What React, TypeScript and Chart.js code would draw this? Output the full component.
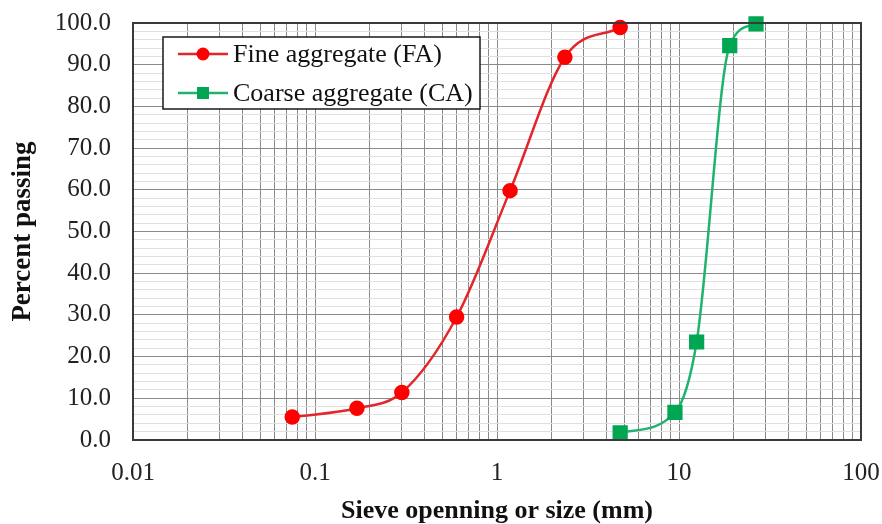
import React, { useEffect, useRef } from "react";
import { Chart, registerables } from "chart.js";

Chart.register(...registerables);

const FA_SIZE = [0.075, 0.17, 0.3, 0.6, 1.18, 2.36, 4.75];
const FA_PASS = [5.5, 7.6, 11.4, 29.5, 59.8, 91.8, 98.9];
const CA_SIZE = [4.75, 9.5, 12.5, 19, 26.5];
const CA_PASS = [1.7, 6.6, 23.5, 94.6, 99.8];
const X_LABELS = [0.01, 0.1, 1, 10, 100];
const SERIES_NAMES = ["Fine aggregate (FA)", "Coarse aggregate (CA)"];
const X_TITLE = "Sieve openning or size (mm)";
const Y_TITLE = "Percent passing";

const SERIF = '"Liberation Serif", "Times New Roman", serif';

const frameAndLegend = {
  id: "frameAndLegend",
  afterDatasetsDraw(chart: any) {
    const { ctx, chartArea } = chart;
    ctx.save();
    // frame
    ctx.strokeStyle = "#3a3a3a";
    ctx.lineWidth = 2;
    ctx.strokeRect(chartArea.left, chartArea.top, chartArea.right - chartArea.left, chartArea.bottom - chartArea.top);
    // legend
    const bx = chartArea.left + 30;
    const by = chartArea.top + 14;
    const bw = 317;
    const bh = 72;
    ctx.fillStyle = "#ffffff";
    ctx.fillRect(bx, by, bw, bh);
    ctx.strokeStyle = "#1a1a1a";
    ctx.lineWidth = 1.5;
    ctx.strokeRect(bx, by, bw, bh);
    chart.data.datasets.forEach((ds: any, i: number) => {
      const cy = by + 17 + i * 39;
      const lx0 = bx + 15;
      const lx1 = bx + 65;
      ctx.strokeStyle = ds.borderColor;
      ctx.lineWidth = ds.borderWidth;
      ctx.beginPath();
      ctx.moveTo(lx0, cy);
      ctx.lineTo(lx1, cy);
      ctx.stroke();
      ctx.fillStyle = ds.pointBackgroundColor;
      const mx = (lx0 + lx1) / 2;
      if (ds.pointStyle === "rect") {
        ctx.fillRect(mx - 6, cy - 6, 12, 12);
      } else {
        ctx.beginPath();
        ctx.arc(mx, cy, 6.5, 0, Math.PI * 2);
        ctx.fill();
      }
      ctx.fillStyle = "#111";
      ctx.font = "26px " + SERIF;
      ctx.textBaseline = "middle";
      ctx.textAlign = "left";
      ctx.fillText(ds.label, bx + 70, cy + 1);
    });
    ctx.restore();
  },
};

export default function App() {
  const ref = useRef<HTMLCanvasElement | null>(null);
  useEffect(() => {
    document.body.style.margin = "0";
    const canvas = ref.current!;
    const chart = new Chart(canvas, {
      type: "line",
      data: {
        datasets: [
          {
            label: SERIES_NAMES[0],
            data: FA_SIZE.map((x, i) => ({ x, y: FA_PASS[i] })),
            borderColor: "#e3262b",
            backgroundColor: "#ff0000",
            pointBackgroundColor: "#ff0000",
            pointBorderColor: "#ff0000",
            pointStyle: "circle",
            pointRadius: 6.5,
            borderWidth: 2.5,
            cubicInterpolationMode: "monotone",
            clip: false,
          },
          {
            label: SERIES_NAMES[1],
            data: CA_SIZE.map((x, i) => ({ x, y: CA_PASS[i] })),
            borderColor: "#1fb36e",
            backgroundColor: "#00a651",
            pointBackgroundColor: "#00a651",
            pointBorderColor: "#00a651",
            pointStyle: "rect",
            pointRadius: 9,
            borderWidth: 2.5,
            cubicInterpolationMode: "monotone",
            clip: false,
          },
        ] as any,
      },
      options: {
        responsive: false,
        animation: false,
        layout: { padding: { top: 23, right: 21, left: 0, bottom: 0 } },
        plugins: { legend: { display: false }, tooltip: { enabled: false } },
        scales: {
          x: {
            type: "logarithmic",
            min: 0.01,
            max: 100,
            afterBuildTicks(scale: any) {
              const ticks: any[] = [];
              for (let d = 0; d < X_LABELS.length - 1; d++) {
                for (let k = 1; k < 10; k++) ticks.push({ value: X_LABELS[d] * k });
              }
              ticks.push({ value: X_LABELS[X_LABELS.length - 1] });
              scale.ticks = ticks;
            },
            afterFit(scale: any) {
              scale.height = 84;
              scale.paddingLeft = 0;
              scale.paddingRight = 0;
            },
            ticks: {
              autoSkip: false,
              maxRotation: 0,
              padding: 18,
              color: "#222",
              font: { family: SERIF, size: 25 },
              callback(value: any) {
                const v = Number(value);
                return X_LABELS.some((l) => Math.abs(l - v) / l < 1e-6) ? String(v) : "";
              },
            },
            grid: { color: "#8a8a8a", lineWidth: 1, drawTicks: false },
            border: { display: false },
            title: {
              display: true,
              text: X_TITLE,
              color: "#111",
              font: { family: SERIF, size: 26, weight: "bold" },
              padding: { top: 0, bottom: -3 },
            },
          },
          y: {
            min: 0,
            max: 100,
            afterFit(scale: any) {
              scale.width = 133;
              scale.paddingTop = 0;
              scale.paddingBottom = 0;
            },
            ticks: {
              stepSize: 2,
              autoSkip: false,
              padding: 22,
              color: "#222",
              font: { family: SERIF, size: 25 },
              callback(value: any) {
                const v = Number(value);
                return Math.abs(v % 10) < 1e-6 ? v.toFixed(1) : "";
              },
            },
            grid: {
              drawTicks: false,
              color: (c: any) => (Math.abs(c.tick.value % 10) < 1e-6 ? "#8a8a8a" : "#e0e0e0"),
              lineWidth: 1,
            },
            border: { display: false },
            title: {
              display: true,
              text: Y_TITLE,
              color: "#111",
              font: { family: SERIF, size: 27, weight: "bold" },
              padding: { top: 7, bottom: 0 },
            },
          },
        },
      } as any,
      plugins: [frameAndLegend],
    });
    return () => chart.destroy();
  }, []);
  return (
    <div style={{ width: 882, height: 524, background: "#fff" }}>
      <canvas ref={ref} width={882} height={524} style={{ display: "block" }} />
    </div>
  );
}
